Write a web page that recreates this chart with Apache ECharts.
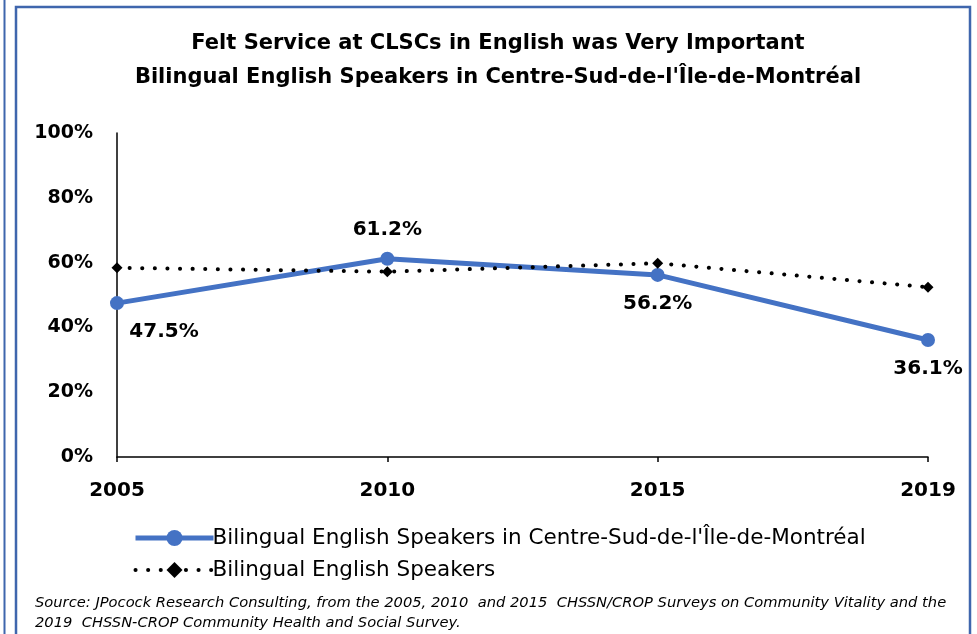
<!DOCTYPE html>
<html>
<head>
<meta charset="utf-8">
<script src="https://cdn.jsdelivr.net/npm/echarts@6/dist/echarts.min.js"></script>
<style>
  html, body { margin: 0; padding: 0; background: #fff; }
  #chart { width: 977px; height: 634px; }
</style>
</head>
<body>
<div id="chart"></div>
<script>
const years = ['2005', '2010', '2015', '2019']
const centreSud = [47.5, 61.2, 56.2, 36.1]
const bilingual = [58.4, 57.2, 59.8, 52.4]
const yTicks = [0, 20, 40, 60, 80, 100]

const seriesNames = [
  "Bilingual English Speakers in Centre-Sud-de-l'Île-de-Montréal",
  'Bilingual English Speakers'
]

// label placement per point (Excel puts them by hand)
const labelPlace = [
  { position: 'bottom', offset: [47, 0] },
  { position: 'top', offset: [0, 0] },
  { position: 'bottom', offset: [0, 0] },
  { position: 'bottom', offset: [0, 0] }
]

const font = 'DejaVu Sans'
const chart = echarts.init(document.getElementById('chart'))

chart.setOption({
  backgroundColor: '#fff',
  animation: false,
  title: {
    text: 'Felt Service at CLSCs in English was Very Important\nBilingual English Speakers in Centre-Sud-de-l\'Île-de-Montréal',
    left: 493,
    textAlign: 'center',
    top: 22,
    textStyle: { fontFamily: font, fontSize: 21, fontWeight: 'bold', color: '#000', lineHeight: 34 }
  },
  grid: { left: 117, right: 49, top: 133, bottom: 177 },
  legend: {
    orient: 'vertical',
    left: 128,
    top: 522,
    itemGap: 10,
    itemWidth: 78,
    itemHeight: 20,
    data: [
      { name: seriesNames[0], lineStyle: { width: 5 } },
      { name: seriesNames[1], lineStyle: { width: 4 } }
    ],
    textStyle: { fontFamily: font, fontSize: 21.5, color: '#000', padding: [0, 0, 0, -6] }
  },
  xAxis: {
    type: 'category',
    data: years,
    boundaryGap: false,
    axisLine: { lineStyle: { color: '#000', width: 1.5 } },
    axisTick: { show: true, length: 5, lineStyle: { color: '#000', width: 1.5 } },
    axisLabel: { fontFamily: font, fontSize: 20, fontWeight: 'bold', color: '#000', margin: 24 }
  },
  yAxis: {
    type: 'value',
    min: yTicks[0],
    max: yTicks[yTicks.length - 1],
    interval: 20,
    splitLine: { show: false },
    axisLine: { show: true, lineStyle: { color: '#000', width: 1.5 } },
    axisTick: { show: false },
    axisLabel: {
      fontFamily: font, fontSize: 19, fontWeight: 'bold', color: '#000', margin: 24,
      formatter: v => v + '%'
    }
  },
  series: [
    {
      name: seriesNames[0],
      type: 'line',
      data: centreSud.map((v, i) => ({
        value: v,
        label: { position: labelPlace[i].position, offset: labelPlace[i].offset }
      })),
      symbol: 'circle',
      symbolSize: 14,
      itemStyle: { color: '#4472C4' },
      lineStyle: { color: '#4472C4', width: 5 },
      label: {
        show: true,
        distance: 12,
        fontFamily: font, fontSize: 20, fontWeight: 'bold', color: '#000',
        formatter: p => p.value.toFixed(1) + '%'
      },
      z: 2
    },
    {
      name: seriesNames[1],
      type: 'line',
      data: bilingual,
      symbol: 'diamond',
      symbolSize: 11,
      itemStyle: { color: '#000' },
      lineStyle: { color: '#000', width: 4, type: [0.1, 12.5], cap: 'round' },
      z: 3
    }
  ],
  graphic: [
    { type: 'line', shape: { x1: 4.5, y1: 0, x2: 4.5, y2: 634 }, style: { stroke: '#3F66AD', lineWidth: 2 } },
    { type: 'rect', shape: { x: 16, y: 7, width: 954, height: 640 }, style: { fill: null, stroke: '#3F66AD', lineWidth: 2.5 } },
    {
      type: 'text', left: 35, top: 593,
      style: {
        text: 'Source: JPocock Research Consulting, from the 2005, 2010  and 2015  CHSSN/CROP Surveys on Community Vitality and the\n2019  CHSSN-CROP Community Health and Social Survey.',
        font: 'italic 14.7px "DejaVu Sans"', fill: '#000', lineHeight: 20
      }
    }
  ]
})
</script>
</body>
</html>
